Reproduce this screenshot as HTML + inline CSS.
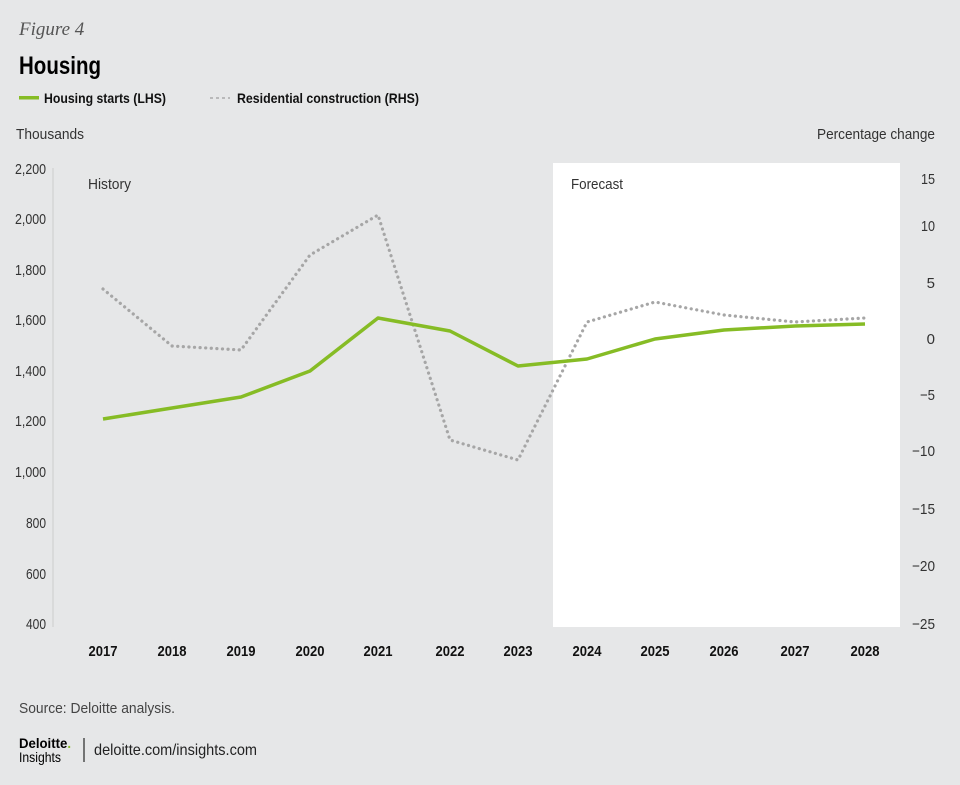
<!DOCTYPE html>
<html><head><meta charset="utf-8"><style>
body{margin:0;background:#e6e7e8;}
svg{display:block;font-family:"Liberation Sans Narrow","Liberation Sans",sans-serif;}
</style></head><body>
<svg width="960" height="785" viewBox="0 0 960 785">
<rect width="960" height="785" fill="#e6e7e8"/>
<text x="19" y="35" font-family="Liberation Serif" font-style="italic" font-size="19" fill="#555">Figure 4</text>
<text x="19" y="74" font-size="25" font-weight="bold" fill="#000" textLength="82" lengthAdjust="spacingAndGlyphs">Housing</text>
<rect x="19" y="96" width="20" height="3.5" fill="#86bc25"/>
<text x="44" y="103" font-size="14" font-weight="bold" fill="#111" textLength="122" lengthAdjust="spacingAndGlyphs">Housing starts (LHS)</text>
<line x1="210" y1="98" x2="230" y2="98" stroke="#aaa" stroke-width="1.5" stroke-dasharray="3,3"/>
<text x="237" y="103" font-size="14" font-weight="bold" fill="#111" textLength="182" lengthAdjust="spacingAndGlyphs">Residential construction (RHS)</text>
<text x="16" y="139" font-size="15" fill="#333" textLength="68" lengthAdjust="spacingAndGlyphs">Thousands</text>
<text x="935" y="139" font-size="15" fill="#333" text-anchor="end" textLength="118" lengthAdjust="spacingAndGlyphs">Percentage change</text>
<rect x="553" y="163" width="347" height="464" fill="#fff"/>
<line x1="53" y1="168" x2="53" y2="627" stroke="#ccc" stroke-width="1"/>
<g font-size="15" fill="#333" text-anchor="end" lengthAdjust="spacingAndGlyphs">
<text x="46" y="174" textLength="31" lengthAdjust="spacingAndGlyphs">2,200</text><text x="46" y="224" textLength="31" lengthAdjust="spacingAndGlyphs">2,000</text><text x="46" y="275" textLength="31" lengthAdjust="spacingAndGlyphs">1,800</text><text x="46" y="325" textLength="31" lengthAdjust="spacingAndGlyphs">1,600</text><text x="46" y="376" textLength="31" lengthAdjust="spacingAndGlyphs">1,400</text><text x="46" y="426" textLength="31" lengthAdjust="spacingAndGlyphs">1,200</text><text x="46" y="477" textLength="31" lengthAdjust="spacingAndGlyphs">1,000</text><text x="46" y="528" textLength="20" lengthAdjust="spacingAndGlyphs">800</text><text x="46" y="579" textLength="20" lengthAdjust="spacingAndGlyphs">600</text><text x="46" y="629" textLength="20" lengthAdjust="spacingAndGlyphs">400</text>
</g>
<g font-size="15" fill="#333" text-anchor="end">
<text x="935" y="184" textLength="14" lengthAdjust="spacingAndGlyphs">15</text><text x="935" y="231" textLength="14" lengthAdjust="spacingAndGlyphs">10</text><text x="935" y="288">5</text><text x="935" y="344">0</text><text x="935" y="400" textLength="15" lengthAdjust="spacingAndGlyphs">−5</text><text x="935" y="456" textLength="23" lengthAdjust="spacingAndGlyphs">−10</text><text x="935" y="514" textLength="23" lengthAdjust="spacingAndGlyphs">−15</text><text x="935" y="571" textLength="23" lengthAdjust="spacingAndGlyphs">−20</text><text x="935" y="629" textLength="23" lengthAdjust="spacingAndGlyphs">−25</text>
</g>
<text x="88" y="189" font-size="15" fill="#333" textLength="43" lengthAdjust="spacingAndGlyphs">History</text>
<text x="571" y="189" font-size="15" fill="#333" textLength="52" lengthAdjust="spacingAndGlyphs">Forecast</text>
<g font-size="15" font-weight="bold" fill="#111" text-anchor="middle">
<text x="103" y="656" textLength="29" lengthAdjust="spacingAndGlyphs">2017</text><text x="172" y="656" textLength="29" lengthAdjust="spacingAndGlyphs">2018</text><text x="241" y="656" textLength="29" lengthAdjust="spacingAndGlyphs">2019</text><text x="310" y="656" textLength="29" lengthAdjust="spacingAndGlyphs">2020</text><text x="378" y="656" textLength="29" lengthAdjust="spacingAndGlyphs">2021</text><text x="450" y="656" textLength="29" lengthAdjust="spacingAndGlyphs">2022</text><text x="518" y="656" textLength="29" lengthAdjust="spacingAndGlyphs">2023</text><text x="587" y="656" textLength="29" lengthAdjust="spacingAndGlyphs">2024</text><text x="655" y="656" textLength="29" lengthAdjust="spacingAndGlyphs">2025</text><text x="724" y="656" textLength="29" lengthAdjust="spacingAndGlyphs">2026</text><text x="795" y="656" textLength="29" lengthAdjust="spacingAndGlyphs">2027</text><text x="865" y="656" textLength="29" lengthAdjust="spacingAndGlyphs">2028</text>
</g>
<polyline fill="none" stroke="#a6a6a6" stroke-width="3.2" stroke-dasharray="0.1,5.5" stroke-linecap="round" stroke-linejoin="round" points="103,289 172,346 241,350 310,255 378,215 450,440 518,460 587,322 655,302 724,315 795,322 865,318"/>
<polyline fill="none" stroke="#86bc25" stroke-width="3.5" stroke-linejoin="round" points="103,419 172,408 241,397 310,371 378,318 450,331 518,366 587,359 655,339 724,330 795,326 865,324"/>
<text x="19" y="713" font-size="15" fill="#444" textLength="156" lengthAdjust="spacingAndGlyphs">Source: Deloitte analysis.</text>
<text x="19" y="748" font-size="14" font-weight="bold" fill="#000" textLength="52" lengthAdjust="spacingAndGlyphs">Deloitte<tspan fill="#86bc25">.</tspan></text>
<text x="19" y="762" font-size="14" fill="#000" textLength="42" lengthAdjust="spacingAndGlyphs">Insights</text>
<line x1="84" y1="738" x2="84" y2="762" stroke="#000" stroke-width="1"/>
<text x="94" y="755" font-size="16" fill="#222" textLength="163" lengthAdjust="spacingAndGlyphs">deloitte.com/insights.com</text>
</svg>
</body></html>
